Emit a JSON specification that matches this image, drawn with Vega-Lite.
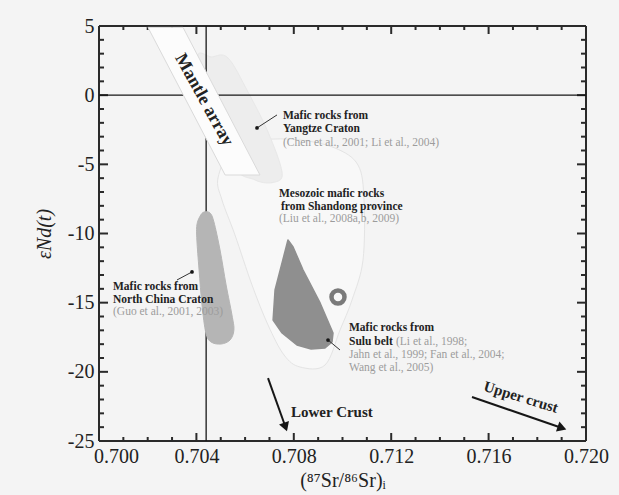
{
  "$schema": "https://vega.github.io/schema/vega-lite/v6.json",
  "width": 487,
  "height": 415,
  "autosize": {"type": "none"},
  "padding": {"left": 99, "top": 26, "right": 33, "bottom": 54},
  "background": "#f4f4f4",
  "config": {
    "view": {"stroke": null},
    "axis": {
      "grid": false,
      "labelFont": "Liberation Serif",
      "labelFontSize": 20,
      "labelColor": "#222",
      "titleFont": "Liberation Serif",
      "titleColor": "#222",
      "titleFontWeight": "normal"
    }
  },
  "datasets": {
    "frame": [
      {"x": 0.7, "y": -25, "x2": 0.72, "y2": -25},
      {"x": 0.7, "y": 5, "x2": 0.72, "y2": 5},
      {"x": 0.7, "y": -25, "x2": 0.7, "y2": 5},
      {"x": 0.72, "y": -25, "x2": 0.72, "y2": 5},
      {"x": 0.701, "y": -25, "x2": 0.701, "y2": -24.71}, {"x": 0.702, "y": -25, "x2": 0.702, "y2": -24.71}, {"x": 0.703, "y": -25, "x2": 0.703, "y2": -24.71},
      {"x": 0.704, "y": -25, "x2": 0.704, "y2": -24.42}, {"x": 0.705, "y": -25, "x2": 0.705, "y2": -24.71}, {"x": 0.706, "y": -25, "x2": 0.706, "y2": -24.71},
      {"x": 0.707, "y": -25, "x2": 0.707, "y2": -24.71}, {"x": 0.708, "y": -25, "x2": 0.708, "y2": -24.42}, {"x": 0.709, "y": -25, "x2": 0.709, "y2": -24.71},
      {"x": 0.71, "y": -25, "x2": 0.71, "y2": -24.71}, {"x": 0.711, "y": -25, "x2": 0.711, "y2": -24.71}, {"x": 0.712, "y": -25, "x2": 0.712, "y2": -24.42},
      {"x": 0.713, "y": -25, "x2": 0.713, "y2": -24.71}, {"x": 0.714, "y": -25, "x2": 0.714, "y2": -24.71}, {"x": 0.715, "y": -25, "x2": 0.715, "y2": -24.71},
      {"x": 0.716, "y": -25, "x2": 0.716, "y2": -24.42}, {"x": 0.717, "y": -25, "x2": 0.717, "y2": -24.71}, {"x": 0.718, "y": -25, "x2": 0.718, "y2": -24.71},
      {"x": 0.719, "y": -25, "x2": 0.719, "y2": -24.71},
      {"x": 0.701, "y": 5, "x2": 0.701, "y2": 4.71}, {"x": 0.702, "y": 5, "x2": 0.702, "y2": 4.71}, {"x": 0.703, "y": 5, "x2": 0.703, "y2": 4.71},
      {"x": 0.704, "y": 5, "x2": 0.704, "y2": 4.42}, {"x": 0.705, "y": 5, "x2": 0.705, "y2": 4.71}, {"x": 0.706, "y": 5, "x2": 0.706, "y2": 4.71},
      {"x": 0.707, "y": 5, "x2": 0.707, "y2": 4.71}, {"x": 0.708, "y": 5, "x2": 0.708, "y2": 4.42}, {"x": 0.709, "y": 5, "x2": 0.709, "y2": 4.71},
      {"x": 0.71, "y": 5, "x2": 0.71, "y2": 4.71}, {"x": 0.711, "y": 5, "x2": 0.711, "y2": 4.71}, {"x": 0.712, "y": 5, "x2": 0.712, "y2": 4.42},
      {"x": 0.713, "y": 5, "x2": 0.713, "y2": 4.71}, {"x": 0.714, "y": 5, "x2": 0.714, "y2": 4.71}, {"x": 0.715, "y": 5, "x2": 0.715, "y2": 4.71},
      {"x": 0.716, "y": 5, "x2": 0.716, "y2": 4.42}, {"x": 0.717, "y": 5, "x2": 0.717, "y2": 4.71}, {"x": 0.718, "y": 5, "x2": 0.718, "y2": 4.71},
      {"x": 0.719, "y": 5, "x2": 0.719, "y2": 4.71},
      {"x": 0.7, "y": -24, "x2": 0.700205, "y2": -24}, {"x": 0.7, "y": -23, "x2": 0.700205, "y2": -23}, {"x": 0.7, "y": -22, "x2": 0.700205, "y2": -22},
      {"x": 0.7, "y": -21, "x2": 0.700205, "y2": -21}, {"x": 0.7, "y": -20, "x2": 0.70037, "y2": -20}, {"x": 0.7, "y": -19, "x2": 0.700205, "y2": -19},
      {"x": 0.7, "y": -18, "x2": 0.700205, "y2": -18}, {"x": 0.7, "y": -17, "x2": 0.700205, "y2": -17}, {"x": 0.7, "y": -16, "x2": 0.700205, "y2": -16},
      {"x": 0.7, "y": -15, "x2": 0.70037, "y2": -15}, {"x": 0.7, "y": -14, "x2": 0.700205, "y2": -14}, {"x": 0.7, "y": -13, "x2": 0.700205, "y2": -13},
      {"x": 0.7, "y": -12, "x2": 0.700205, "y2": -12}, {"x": 0.7, "y": -11, "x2": 0.700205, "y2": -11}, {"x": 0.7, "y": -10, "x2": 0.70037, "y2": -10},
      {"x": 0.7, "y": -9, "x2": 0.700205, "y2": -9}, {"x": 0.7, "y": -8, "x2": 0.700205, "y2": -8}, {"x": 0.7, "y": -7, "x2": 0.700205, "y2": -7},
      {"x": 0.7, "y": -6, "x2": 0.700205, "y2": -6}, {"x": 0.7, "y": -5, "x2": 0.70037, "y2": -5}, {"x": 0.7, "y": -4, "x2": 0.700205, "y2": -4},
      {"x": 0.7, "y": -3, "x2": 0.700205, "y2": -3}, {"x": 0.7, "y": -2, "x2": 0.700205, "y2": -2}, {"x": 0.7, "y": -1, "x2": 0.700205, "y2": -1},
      {"x": 0.7, "y": 0, "x2": 0.70037, "y2": 0}, {"x": 0.7, "y": 1, "x2": 0.700205, "y2": 1}, {"x": 0.7, "y": 2, "x2": 0.700205, "y2": 2},
      {"x": 0.7, "y": 3, "x2": 0.700205, "y2": 3}, {"x": 0.7, "y": 4, "x2": 0.700205, "y2": 4},
      {"x": 0.72, "y": -24, "x2": 0.719795, "y2": -24}, {"x": 0.72, "y": -23, "x2": 0.719795, "y2": -23}, {"x": 0.72, "y": -22, "x2": 0.719795, "y2": -22},
      {"x": 0.72, "y": -21, "x2": 0.719795, "y2": -21}, {"x": 0.72, "y": -20, "x2": 0.71963, "y2": -20}, {"x": 0.72, "y": -19, "x2": 0.719795, "y2": -19},
      {"x": 0.72, "y": -18, "x2": 0.719795, "y2": -18}, {"x": 0.72, "y": -17, "x2": 0.719795, "y2": -17}, {"x": 0.72, "y": -16, "x2": 0.719795, "y2": -16},
      {"x": 0.72, "y": -15, "x2": 0.71963, "y2": -15}, {"x": 0.72, "y": -14, "x2": 0.719795, "y2": -14}, {"x": 0.72, "y": -13, "x2": 0.719795, "y2": -13},
      {"x": 0.72, "y": -12, "x2": 0.719795, "y2": -12}, {"x": 0.72, "y": -11, "x2": 0.719795, "y2": -11}, {"x": 0.72, "y": -10, "x2": 0.71963, "y2": -10},
      {"x": 0.72, "y": -9, "x2": 0.719795, "y2": -9}, {"x": 0.72, "y": -8, "x2": 0.719795, "y2": -8}, {"x": 0.72, "y": -7, "x2": 0.719795, "y2": -7},
      {"x": 0.72, "y": -6, "x2": 0.719795, "y2": -6}, {"x": 0.72, "y": -5, "x2": 0.71963, "y2": -5}, {"x": 0.72, "y": -4, "x2": 0.719795, "y2": -4},
      {"x": 0.72, "y": -3, "x2": 0.719795, "y2": -3}, {"x": 0.72, "y": -2, "x2": 0.719795, "y2": -2}, {"x": 0.72, "y": -1, "x2": 0.719795, "y2": -1},
      {"x": 0.72, "y": 0, "x2": 0.71963, "y2": 0}, {"x": 0.72, "y": 1, "x2": 0.719795, "y2": 1}, {"x": 0.72, "y": 2, "x2": 0.719795, "y2": 2},
      {"x": 0.72, "y": 3, "x2": 0.719795, "y2": 3}, {"x": 0.72, "y": 4, "x2": 0.719795, "y2": 4}
    ],
    "shapes": [
      {"s": "shandong", "o": 1, "x": 0.704887, "y": -5.99},
      {"s": "shandong", "o": 2, "x": 0.705462, "y": -3.96},
      {"s": "shandong", "o": 3, "x": 0.706694, "y": -3.24},
      {"s": "shandong", "o": 4, "x": 0.708255, "y": -3.24},
      {"s": "shandong", "o": 5, "x": 0.709692, "y": -3.82},
      {"s": "shandong", "o": 6, "x": 0.710637, "y": -5.05},
      {"s": "shandong", "o": 7, "x": 0.710883, "y": -7.58},
      {"s": "shandong", "o": 8, "x": 0.710842, "y": -11.92},
      {"s": "shandong", "o": 9, "x": 0.71039, "y": -14.81},
      {"s": "shandong", "o": 10, "x": 0.709897, "y": -16.98},
      {"s": "shandong", "o": 11, "x": 0.709281, "y": -19.51},
      {"s": "shandong", "o": 12, "x": 0.708255, "y": -19.65},
      {"s": "shandong", "o": 13, "x": 0.707598, "y": -18.78},
      {"s": "shandong", "o": 14, "x": 0.706941, "y": -16.61},
      {"s": "shandong", "o": 15, "x": 0.706283, "y": -13.72},
      {"s": "shandong", "o": 16, "x": 0.705585, "y": -10.11},
      {"s": "shandong", "o": 17, "x": 0.705051, "y": -7.58},
      {"s": "yangtze", "o": 1, "x": 0.704066, "y": 2.4},
      {"s": "yangtze", "o": 2, "x": 0.704641, "y": 2.76},
      {"s": "yangtze", "o": 3, "x": 0.705298, "y": 2.69},
      {"s": "yangtze", "o": 4, "x": 0.706119, "y": 0.23},
      {"s": "yangtze", "o": 5, "x": 0.706941, "y": -2.66},
      {"s": "yangtze", "o": 6, "x": 0.707516, "y": -5.55},
      {"s": "yangtze", "o": 7, "x": 0.707228, "y": -6.28},
      {"s": "yangtze", "o": 8, "x": 0.706407, "y": -6.13},
      {"s": "yangtze", "o": 9, "x": 0.70538, "y": -4.69},
      {"s": "mantle", "o": 1, "x": 0.70201, "y": 4.9},
      {"s": "mantle", "o": 2, "x": 0.70345, "y": 4.9},
      {"s": "mantle", "o": 3, "x": 0.70661, "y": -5.77},
      {"s": "mantle", "o": 4, "x": 0.70518, "y": -5.77},
      {"s": "ncc", "o": 1, "x": 0.70415, "y": -8.75},
      {"s": "ncc", "o": 2, "x": 0.70431, "y": -8.45},
      {"s": "ncc", "o": 3, "x": 0.70456, "y": -8.52},
      {"s": "ncc", "o": 4, "x": 0.70472, "y": -9.17},
      {"s": "ncc", "o": 5, "x": 0.70497, "y": -11.19},
      {"s": "ncc", "o": 6, "x": 0.70522, "y": -13.72},
      {"s": "ncc", "o": 7, "x": 0.70546, "y": -15.89},
      {"s": "ncc", "o": 8, "x": 0.70554, "y": -16.98},
      {"s": "ncc", "o": 9, "x": 0.70538, "y": -17.7},
      {"s": "ncc", "o": 10, "x": 0.70501, "y": -17.99},
      {"s": "ncc", "o": 11, "x": 0.7046, "y": -17.84},
      {"s": "ncc", "o": 12, "x": 0.70439, "y": -17.19},
      {"s": "ncc", "o": 13, "x": 0.70423, "y": -15.17},
      {"s": "ncc", "o": 14, "x": 0.70411, "y": -12.64},
      {"s": "ncc", "o": 15, "x": 0.70402, "y": -10.47},
      {"s": "ncc", "o": 16, "x": 0.70402, "y": -9.39},
      {"s": "sulu", "o": 1, "x": 0.70776, "y": -10.47},
      {"s": "sulu", "o": 2, "x": 0.70797, "y": -10.98},
      {"s": "sulu", "o": 3, "x": 0.70838, "y": -12.64},
      {"s": "sulu", "o": 4, "x": 0.70908, "y": -15.02},
      {"s": "sulu", "o": 5, "x": 0.70961, "y": -17.19},
      {"s": "sulu", "o": 6, "x": 0.70957, "y": -17.84},
      {"s": "sulu", "o": 7, "x": 0.70928, "y": -18.28},
      {"s": "sulu", "o": 8, "x": 0.70871, "y": -18.35},
      {"s": "sulu", "o": 9, "x": 0.70813, "y": -18.06},
      {"s": "sulu", "o": 10, "x": 0.70752, "y": -17.19},
      {"s": "sulu", "o": 11, "x": 0.70715, "y": -16.25},
      {"s": "sulu", "o": 12, "x": 0.70723, "y": -14.08}
    ],
    "notes": [
      {"g": "name", "x": 0.707556, "y": -1.51, "text": "Mafic rocks from"},
      {"g": "name", "x": 0.707556, "y": -2.45, "text": "Yangtze Craton"},
      {"g": "name", "x": 0.707392, "y": -7.14, "text": "Mesozoic mafic rocks"},
      {"g": "name", "x": 0.707474, "y": -8.08, "text": "from Shandong province"},
      {"g": "name", "x": 0.700575, "y": -13.87, "text": "Mafic rocks from"},
      {"g": "name", "x": 0.700575, "y": -14.81, "text": "North China Craton"},
      {"g": "name", "x": 0.710267, "y": -16.83, "text": "Mafic rocks from"},
      {"g": "name", "x": 0.710267, "y": -17.84, "text": "Sulu belt"},
      {"g": "ref", "x": 0.707556, "y": -3.46, "text": "(Chen et al., 2001; Li et al., 2004)"},
      {"g": "ref", "x": 0.707392, "y": -8.95, "text": "(Liu et al., 2008a,b, 2009)"},
      {"g": "ref", "x": 0.700575, "y": -15.67, "text": "(Guo et al., 2001, 2003)"},
      {"g": "ref", "x": 0.712197, "y": -17.84, "text": "(Li et al., 1998;"},
      {"g": "ref", "x": 0.710267, "y": -18.78, "text": "Jahn et al., 1999; Fan et al., 2004;"},
      {"g": "ref", "x": 0.710267, "y": -19.72, "text": "Wang et al., 2005)"},
      {"g": "lower", "x": 0.707885, "y": -22.9, "text": "Lower Crust"},
      {"g": "upper", "x": 0.717331, "y": -21.82, "text": "Upper crust"},
      {"g": "mantle", "x": 0.704312, "y": -0.35, "text": "Mantle array"}
    ],
    "pointers": [
      {"x": 0.706489, "y": -2.37, "x2": 0.70731, "y2": -1.43},
      {"x": 0.703819, "y": -12.78, "x2": 0.703203, "y2": -13.36},
      {"x": 0.709405, "y": -17.7, "x2": 0.709897, "y2": -18.42}
    ],
    "arrows": [
      {"a": "lower", "x": 0.706941, "y": -20.45, "x2": 0.707659, "y2": -23.99},
      {"a": "upper", "x": 0.715318, "y": -21.82, "x2": 0.719014, "y2": -24.06}
    ],
    "ring": [{"x": 0.709815, "y": -14.59}],
    "refline": [{"sr": 0.7044, "nd": 0}]
  },
  "layer": [
    {
      "data": {"name": "frame"},
      "mark": {"type": "rule", "stroke": "#2a2a2a", "strokeWidth": 2},
      "encoding": {
        "x": {
          "field": "x", "type": "quantitative",
          "scale": {"domain": [0.7, 0.72], "nice": false, "zero": false},
          "axis": {
            "values": [0.7, 0.704, 0.708, 0.712, 0.716, 0.72],
            "format": ".3f",
            "domain": false,
            "ticks": false,
            "labelPadding": 5,
            "labelOffset": {"condition": {"test": "datum.value < 0.7005", "value": 17}, "value": 0},
            "labelFlush": false,
            "labelOverlap": false,
            "title": "(⁸⁷Sr/⁸⁶Sr)ᵢ",
            "titleFontSize": 20,
            "titlePadding": 4
          }
        },
        "y": {
          "field": "y", "type": "quantitative",
          "scale": {"domain": [-25, 5], "nice": false, "zero": false},
          "axis": {
            "values": [-25, -20, -15, -10, -5, 0, 5],
            "labelExpr": "'' + datum.value",
            "domain": false,
            "ticks": false,
            "labelPadding": 5,
            "labelOverlap": false,
            "labelFlush": false,
            "title": "εNd(t)",
            "titleFontStyle": "italic",
            "titleFontSize": 20,
            "titlePadding": 13
          }
        },
        "x2": {"field": "x2"},
        "y2": {"field": "y2"}
      }
    },
    {
      "data": {"name": "shapes"},
      "transform": [{"filter": "datum.s == 'shandong'"}],
      "mark": {"type": "line", "interpolate": "cardinal-closed", "fill": "#f8f8f8", "stroke": "#e4e4e4", "strokeWidth": 1},
      "encoding": {
        "x": {"field": "x", "type": "quantitative"},
        "y": {"field": "y", "type": "quantitative"},
        "order": {"field": "o", "type": "quantitative"}
      }
    },
    {
      "data": {"name": "shapes"},
      "transform": [{"filter": "datum.s == 'yangtze'"}],
      "mark": {"type": "line", "interpolate": "cardinal-closed", "fill": "#ededed", "stroke": "#e8e8e8", "strokeWidth": 1},
      "encoding": {
        "x": {"field": "x", "type": "quantitative"},
        "y": {"field": "y", "type": "quantitative"},
        "order": {"field": "o", "type": "quantitative"}
      }
    },
    {
      "data": {"name": "refline"},
      "mark": {"type": "rule", "stroke": "#161616", "strokeWidth": 1.3},
      "encoding": {"y": {"field": "nd", "type": "quantitative"}}
    },
    {
      "data": {"name": "refline"},
      "mark": {"type": "rule", "stroke": "#161616", "strokeWidth": 1.3},
      "encoding": {"x": {"field": "sr", "type": "quantitative"}}
    },
    {
      "data": {"name": "shapes"},
      "transform": [{"filter": "datum.s == 'mantle'"}],
      "mark": {"type": "line", "interpolate": "linear-closed", "fill": "#fcfcfc", "stroke": "#dadada", "strokeWidth": 1},
      "encoding": {
        "x": {"field": "x", "type": "quantitative"},
        "y": {"field": "y", "type": "quantitative"},
        "order": {"field": "o", "type": "quantitative"}
      }
    },
    {
      "data": {"name": "shapes"},
      "transform": [{"filter": "datum.s == 'ncc'"}],
      "mark": {"type": "line", "interpolate": "cardinal-closed", "fill": "#b5b5b5", "stroke": "#b5b5b5", "strokeWidth": 1},
      "encoding": {
        "x": {"field": "x", "type": "quantitative"},
        "y": {"field": "y", "type": "quantitative"},
        "order": {"field": "o", "type": "quantitative"}
      }
    },
    {
      "data": {"name": "shapes"},
      "transform": [{"filter": "datum.s == 'sulu'"}],
      "mark": {"type": "line", "interpolate": "linear-closed", "fill": "#8f8f8f", "stroke": "#8f8f8f", "strokeWidth": 1.5, "strokeJoin": "round"},
      "encoding": {
        "x": {"field": "x", "type": "quantitative"},
        "y": {"field": "y", "type": "quantitative"},
        "order": {"field": "o", "type": "quantitative"}
      }
    },
    {
      "data": {"name": "ring"},
      "mark": {"type": "point", "shape": "circle", "size": 169, "filled": false, "stroke": "#7a7a7a", "strokeWidth": 4.5, "opacity": 1},
      "encoding": {
        "x": {"field": "x", "type": "quantitative"},
        "y": {"field": "y", "type": "quantitative"}
      }
    },
    {
      "data": {"name": "pointers"},
      "mark": {"type": "rule", "stroke": "#333", "strokeWidth": 1},
      "encoding": {
        "x": {"field": "x", "type": "quantitative"},
        "y": {"field": "y", "type": "quantitative"},
        "x2": {"field": "x2"},
        "y2": {"field": "y2"}
      }
    },
    {
      "data": {"name": "pointers"},
      "mark": {"type": "point", "shape": "circle", "size": 14, "filled": true, "color": "#161616", "opacity": 1},
      "encoding": {
        "x": {"field": "x", "type": "quantitative"},
        "y": {"field": "y", "type": "quantitative"}
      }
    },
    {
      "data": {"name": "arrows"},
      "mark": {"type": "rule", "stroke": "#161616", "strokeWidth": 2},
      "encoding": {
        "x": {"field": "x", "type": "quantitative"},
        "y": {"field": "y", "type": "quantitative"},
        "x2": {"field": "x2"},
        "y2": {"field": "y2"}
      }
    },
    {
      "data": {"name": "arrows"},
      "transform": [{"filter": "datum.a == 'lower'"}],
      "mark": {"type": "point", "shape": "triangle-down", "size": 110, "filled": true, "color": "#161616", "opacity": 1, "angle": 341},
      "encoding": {
        "x": {"field": "x2", "type": "quantitative"},
        "y": {"field": "y2", "type": "quantitative"}
      }
    },
    {
      "data": {"name": "arrows"},
      "transform": [{"filter": "datum.a == 'upper'"}],
      "mark": {"type": "point", "shape": "triangle-right", "size": 110, "filled": true, "color": "#161616", "opacity": 1, "angle": 19},
      "encoding": {
        "x": {"field": "x2", "type": "quantitative"},
        "y": {"field": "y2", "type": "quantitative"}
      }
    },
    {
      "data": {"name": "notes"},
      "transform": [{"filter": "datum.g == 'name'"}],
      "mark": {"type": "text", "font": "Liberation Serif", "align": "left", "baseline": "middle", "fontWeight": "bold", "fontSize": 11.5, "color": "#222"},
      "encoding": {
        "x": {"field": "x", "type": "quantitative"},
        "y": {"field": "y", "type": "quantitative"},
        "text": {"field": "text"}
      }
    },
    {
      "data": {"name": "notes"},
      "transform": [{"filter": "datum.g == 'ref'"}],
      "mark": {"type": "text", "font": "Liberation Serif", "align": "left", "baseline": "middle", "fontSize": 11.5, "color": "#9c9c9c"},
      "encoding": {
        "x": {"field": "x", "type": "quantitative"},
        "y": {"field": "y", "type": "quantitative"},
        "text": {"field": "text"}
      }
    },
    {
      "data": {"name": "notes"},
      "transform": [{"filter": "datum.g == 'lower'"}],
      "mark": {"type": "text", "font": "Liberation Serif", "align": "left", "baseline": "middle", "fontWeight": "bold", "fontSize": 15, "color": "#222"},
      "encoding": {
        "x": {"field": "x", "type": "quantitative"},
        "y": {"field": "y", "type": "quantitative"},
        "text": {"field": "text"}
      }
    },
    {
      "data": {"name": "notes"},
      "transform": [{"filter": "datum.g == 'upper'"}],
      "mark": {"type": "text", "font": "Liberation Serif", "align": "center", "baseline": "middle", "fontWeight": "bold", "fontSize": 15, "color": "#222", "angle": 17},
      "encoding": {
        "x": {"field": "x", "type": "quantitative"},
        "y": {"field": "y", "type": "quantitative"},
        "text": {"field": "text"}
      }
    },
    {
      "data": {"name": "notes"},
      "transform": [{"filter": "datum.g == 'mantle'"}],
      "mark": {"type": "text", "font": "Liberation Serif", "align": "center", "baseline": "middle", "fontWeight": "bold", "fontSize": 18, "color": "#222", "angle": 61},
      "encoding": {
        "x": {"field": "x", "type": "quantitative"},
        "y": {"field": "y", "type": "quantitative"},
        "text": {"field": "text"}
      }
    }
  ]
}
